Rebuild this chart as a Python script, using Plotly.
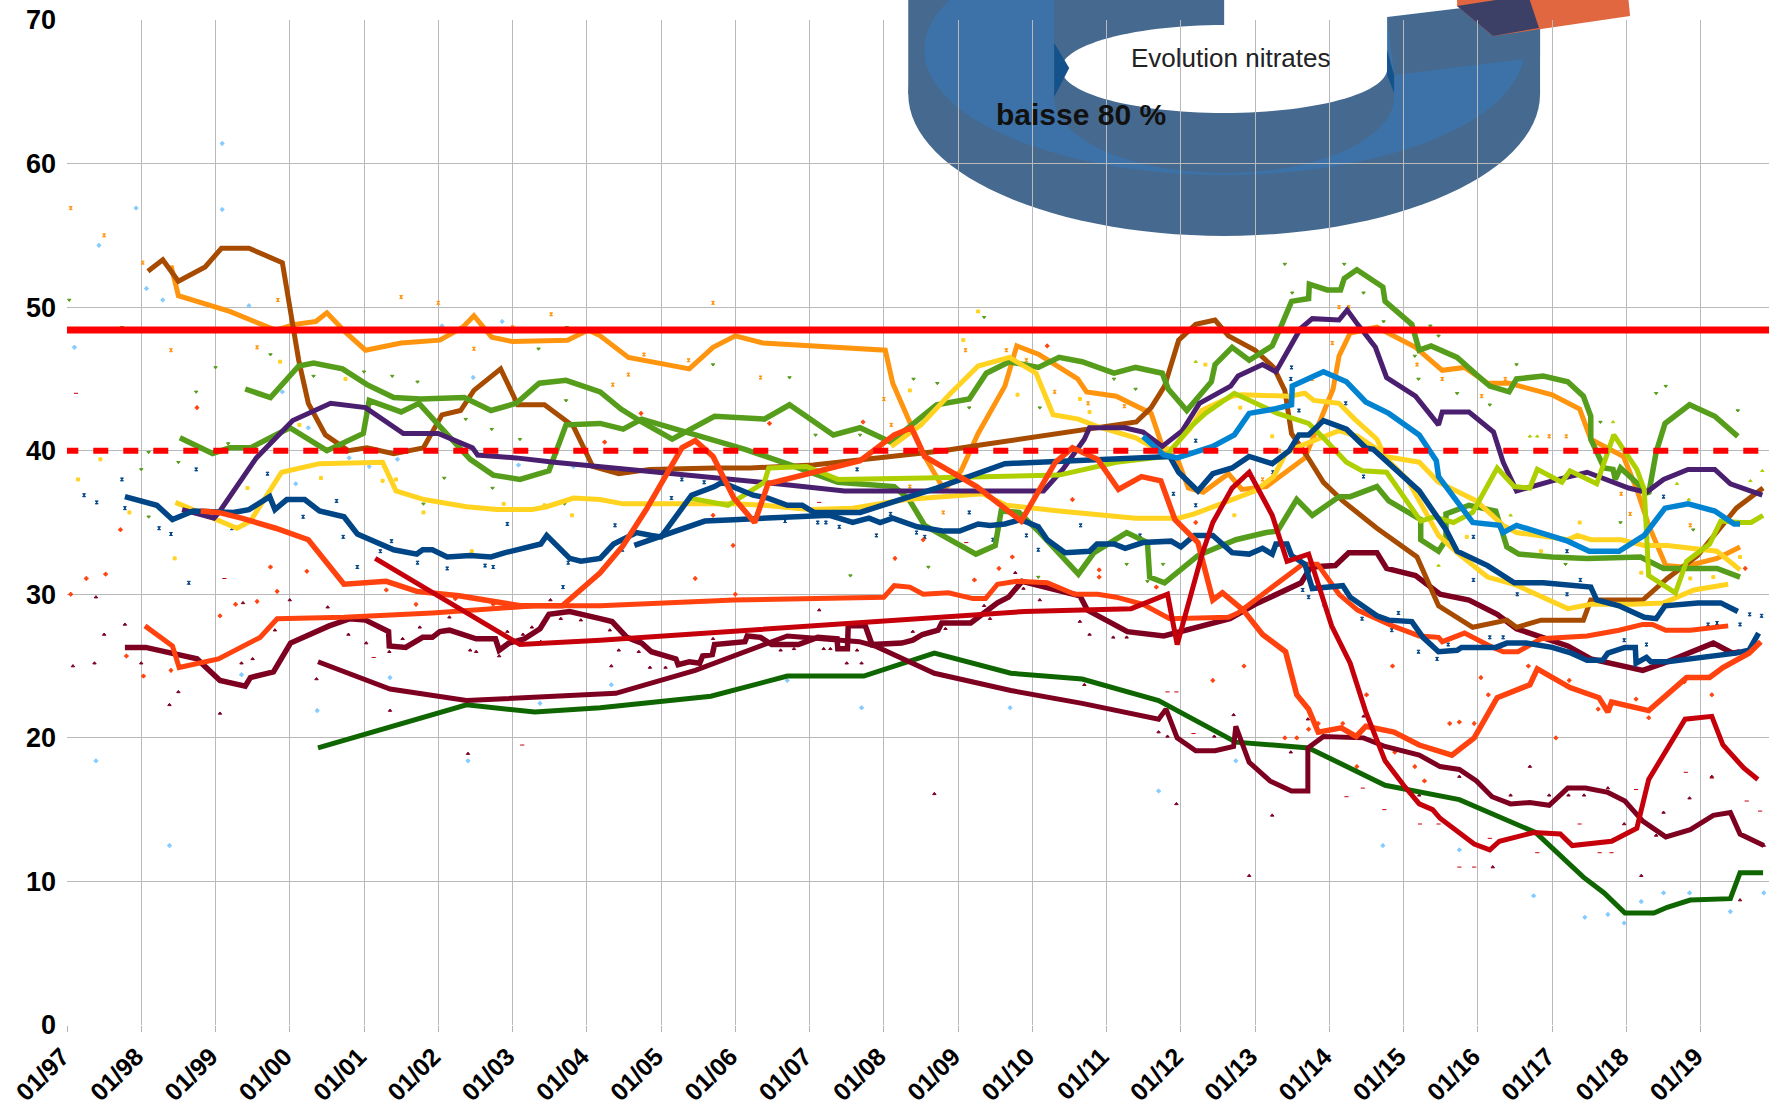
import numpy as np
import plotly.graph_objects as go

# ---------- tick labels ----------
tick_years = list(range(1997, 2020))
tick_labels = ["01/%02d" % (y % 100) for y in tick_years]
y_ticks = [0, 10, 20, 30, 40, 50, 60, 70]

# ---------- thresholds ----------
limit_solid = 48.4
limit_dashed = 40

# ---------- moving-average lines (decimal year, nitrates) ----------
dark_green = [(2000.38,19.3),(2002.38,22.3),(2003.3,21.8),(2004.18,22.1),(2005.67,22.9),(2006.7,24.3),(2007.73,24.3),(2008.68,25.9),(2009.71,24.5),(2010.67,24.1),(2011.7,22.6),(2012.74,19.7),(2013.72,19.3),(2014.75,16.7),(2015.75,15.7),(2016.78,13.4),(2017.42,10.3),(2017.7,9.2),(2017.98,7.8),(2018.37,7.8),(2018.55,8.2),(2018.86,8.7),(2019.4,8.8),(2019.53,10.6),(2019.84,10.6)]

maroon_a = [(1997.78,26.3),(1998.06,26.3),(1998.75,25.5),(1999.06,24),(1999.4,23.6),(1999.47,24.2),(1999.78,24.6),(2000.01,26.6),(2000.53,27.8),(2000.81,28.3),(2001.02,28.2),(2001.33,27.4),(2001.34,26.4),(2001.56,26.3),(2001.79,27),(2001.92,27),(2002.02,27.4),(2002.15,27.5),(2002.51,26.9),(2002.77,26.9),(2002.82,26.1),(2002.95,26.6),(2003.16,26.9),(2003.37,27.6),(2003.49,28.6),(2003.77,28.8),(2004.18,28.3),(2004.34,28.1),(2004.54,27),(2004.74,26.6),(2004.87,26),(2005.2,25.5),(2005.23,25.1),(2005.38,25.3),(2005.52,25.2),(2005.56,25.7),(2005.69,25.8),(2005.72,26.5),(2006.13,26.7),(2006.16,27.1),(2006.34,27),(2006.49,26.5),(2006.85,26.5),(2007.11,27),(2007.37,26.9),(2007.38,26.2),(2007.51,26.2),(2007.52,27.8),(2007.75,27.8),(2007.84,26.5),(2008.24,26.6),(2008.39,26.8),(2008.52,27.2),(2008.73,27.5),(2008.78,28),(2009.17,28),(2009.53,29.4),(2009.68,29.8),(2009.86,30.9),(2010.64,29.9),(2010.74,28.9),(2011.28,27.4),(2011.77,27.1),(2012,27.4),(2012.66,28.3),(2013,29.3),(2013.62,30.8),(2013.75,31.9),(2014.08,32),(2014.26,32.9),(2014.64,32.9),(2014.77,31.8),(2015.16,31.3),(2015.49,30),(2015.88,29.6),(2016.26,28.6),(2016.52,27.6),(2017.21,26.4),(2017.52,25.5),(2018.22,24.7),(2018.5,25.2),(2019.17,26.6),(2019.43,25.9),(2019.53,26)]

maroon_b = [(2000.38,25.3),(2001.35,23.4),(2002.38,22.6),(2004.18,23),(2004.39,23.1),(2005.46,24.7),(2006.24,26.2),(2006.7,27.1),(2007.67,26.7),(2007.88,26.4),(2008.68,24.5),(2009.71,23.3),(2010.67,22.4),(2011.7,21.3),(2011.8,22),(2011.95,20),(2012.2,19.1),(2012.46,19.1),(2012.71,19.4),(2012.74,20.8),(2012.92,18.3),(2013.2,17),(2013.49,16.3),(2013.71,16.3),(2013.71,19.3),(2013.92,20.1),(2014.46,20),(2014.75,19.4),(2015.21,18.8),(2015.49,18),(2015.75,17.8),(2015.98,17),(2016.19,15.9),(2016.44,15.4),(2016.7,15.5),(2016.96,15.3),(2017.21,16.5),(2017.45,16.5),(2017.75,16.2),(2017.98,15.6),(2018.22,14.2),(2018.53,13.1),(2018.86,13.6),(2019.17,14.6),(2019.4,14.8),(2019.53,13.3),(2019.85,12.5)]

orange_red_a = [(1998.8,35.8),(1999.04,35.7),(1999.35,35.3),(1999.81,34.6),(2000.25,33.8),(2000.73,30.7),(2001.3,30.9),(2001.71,30.2),(2002.28,29.9),(2003.1,29.2),(2003.67,29.2),(2004.18,31.5),(2004.49,33.4),(2004.8,35.9),(2005.28,40.2),(2005.46,40.7),(2005.7,39.6),(2005.98,36.7),(2006.26,35),(2006.44,37.7),(2007.68,39.3),(2008.14,41.1),(2008.37,41.6),(2008.55,39.6),(2009.25,37.5),(2009.56,36.2),(2009.85,35.1),(2010.31,39.2),(2010.54,40.2),(2010.88,39.4),(2011.16,37.3),(2011.47,38.2),(2011.73,37.9),(2011.92,35.2),(2012.23,33.6),(2012.43,29.6),(2012.56,30.1),(2012.84,28.9),(2013.1,27.2),(2013.41,26),(2013.56,23),(2013.72,22),(2013.85,20.4),(2014.16,20.7),(2014.36,20.1),(2014.49,20.8),(2014.87,20.4),(2015.21,19.5),(2015.65,18.8),(2015.95,20),(2016.26,22.8),(2016.7,23.7),(2016.8,24.8),(2017.24,23.5),(2017.63,22.8),(2017.75,21.8),(2017.8,22.5),(2018.3,21.9),(2018.66,23.6),(2018.81,24.2),(2019.12,24.2),(2019.3,24.9),(2019.65,25.9),(2019.81,26.7)]

orange_red_b = [(1998.05,27.8),(1998.42,26.4),(1998.51,24.9),(1999.04,25.5),(1999.6,27),(1999.83,28.3),(2000.73,28.4),(2001.92,28.7),(2003.3,29.2),(2004.18,29.2),(2005.98,29.6),(2008,29.8),(2008.14,30.6),(2008.35,30.5),(2008.53,30),(2008.87,30.1),(2009.2,29.7),(2009.37,29.7),(2009.53,30.7),(2009.79,30.9),(2010.2,30.8),(2010.57,30),(2010.88,30),(2011.13,29.8),(2011.49,29.3),(2011.85,28.3),(2012.64,28.4),(2012.77,28.7),(2013.05,29.8),(2013.41,31.2),(2013.64,32.1),(2013.84,32.1),(2014.13,30),(2014.38,28.9),(2014.85,27.8),(2015.21,27.1),(2015.47,27),(2015.52,26.7),(2015.82,27.3),(2016.16,26.4),(2016.34,26),(2016.54,26),(2016.85,26.9),(2017.47,27.1),(2017.9,27.5),(2018.22,27.9),(2018.35,27.9),(2018.53,27.5),(2018.86,27.5),(2019.37,27.8)]

dark_red = [(2001.15,32.5),(2001.92,30.1),(2003.1,26.5),(2004.18,26.8),(2007.47,28),(2009.89,28.8),(2011.33,29),(2011.82,30),(2011.95,26.5),(2012.28,32.7),(2012.43,35),(2012.69,37.4),(2012.92,38.5),(2013.23,35.5),(2013.43,32.3),(2013.72,32.8),(2014.03,27.8),(2014.28,25.2),(2014.49,21.8),(2014.75,18.4),(2015,16.7),(2015.21,15.4),(2015.39,15),(2015.49,14.4),(2015.95,12.6),(2016.16,12.2),(2016.29,12.8),(2016.75,13.4),(2017.11,13.3),(2017.27,12.5),(2017.8,12.8),(2018.14,13.7),(2018.3,17.1),(2018.79,21.3),(2019.15,21.5),(2019.3,19.5),(2019.58,17.9),(2019.77,17.1)]

navy_a = [(1997.78,36.8),(1998.21,36.2),(1998.42,35.2),(1998.7,35.8),(1999.24,35.7),(1999.45,35.9),(1999.73,36.8),(1999.8,35.9),(1999.96,36.6),(2000.2,36.6),(2000.4,35.8),(2000.73,35.4),(2000.91,34.2),(2001.4,33.1),(2001.71,32.8),(2001.79,33.1),(2001.92,33.1),(2002.12,32.6),(2002.43,32.7),(2002.71,32.6),(2002.9,32.9),(2003.38,33.5),(2003.46,34.1),(2003.77,32.5),(2003.92,32.3),(2004.18,32.5),(2004.36,33.5),(2004.67,34.3),(2004.87,34.1),(2005,34),(2005.41,36.9),(2005.72,37.5),(2005.82,37.8),(2006.24,36.9),(2006.44,36.7),(2006.7,36.2),(2006.9,36.2),(2007.06,35.7),(2007.68,35.7),(2008,36.2),(2008.71,37.4),(2009.63,39.1),(2010.15,39.2),(2011.03,39.4),(2011.85,39.6),(2011.97,38.5),(2012.23,37.2),(2012.43,38.4),(2012.69,38.8),(2012.92,39.6),(2013.23,39.1),(2013.46,40),(2013.59,41.1),(2013.72,41.1),(2013.92,42.1),(2014.23,41.5),(2014.49,40.2),(2014.59,40.1),(2015.21,37.2),(2015.57,34.5),(2015.72,33),(2016.13,32),(2016.49,30.8),(2016.88,30.8),(2017.21,30.6),(2017.52,30.5),(2017.6,29.6),(2017.9,29.2),(2018.24,28.4),(2018.4,28.3),(2018.52,29.2),(2018.96,29.4),(2019.27,29.4),(2019.5,28.8)]

navy_b = [(2004.64,33.4),(2005.59,35.1),(2005.98,35.2),(2006.75,35.4),(2007.27,35.5),(2007.58,35),(2007.8,35.3),(2007.95,35),(2008.12,35.3),(2008.45,34.7),(2008.81,34.4),(2009.02,34.4),(2009.27,34.9),(2009.43,34.8),(2009.63,34.9),(2009.84,35.2),(2010.08,34.7),(2010.2,33.8),(2010.44,32.9),(2010.77,33),(2010.87,33.5),(2011.1,33.5),(2011.25,33.2),(2011.49,33.6),(2011.87,33.7),(2012,33.3),(2012.18,34.1),(2012.43,34.1),(2012.69,32.9),(2012.92,32.8),(2013.1,33.2),(2013.23,32.8),(2013.28,33.5),(2013.43,33.5),(2013.49,32.7),(2013.67,32.1),(2013.77,30.4),(2014.18,30.6),(2014.28,29.8),(2014.64,28.5),(2014.8,28.2),(2015.11,28.1),(2015.26,27),(2015.47,26),(2015.72,26.1),(2015.78,26.3),(2016.24,26.3),(2016.39,26.6),(2016.65,26.6),(2017,26.3),(2017.26,25.9),(2017.47,25.4),(2017.68,25.4),(2017.75,25.9),(2017.98,26.3),(2018.12,26.3),(2018.13,25.2),(2018.27,25.6),(2018.33,25.3),(2018.55,25.3),(2019.06,25.6),(2019.47,25.9),(2019.65,26.1),(2019.78,27.3)]

purple = [(1998.55,35.9),(1998.98,35.3),(1999.06,35.8),(1999.55,39.5),(2000.04,42.1),(2000.55,43.3),(2001.02,43),(2001.53,41.2),(2002,41.2),(2002.46,40.2),(2002.53,39.7),(2003.05,39.5),(2003.56,39.2),(2004.18,38.9),(2004.69,38.6),(2005.72,38.1),(2006.75,37.6),(2007.47,37.2),(2010.15,37.2),(2010.41,38.7),(2010.7,40.8),(2010.77,41.6),(2011.24,41.6),(2011.49,41.3),(2011.75,40.3),(2012.02,41.4),(2012.25,43.3),(2012.67,44.5),(2012.77,45.2),(2013.1,46),(2013.28,45.5),(2013.61,48.5),(2013.77,49.2),(2014.13,49.1),(2014.24,49.8),(2014.38,48.8),(2014.62,47.2),(2014.77,45.1),(2015.16,43.8),(2015.47,41.8),(2015.52,42.7),(2015.88,42.7),(2016.21,41.3),(2016.34,39.2),(2016.52,37.2),(2017,37.9),(2017.47,38.5),(2018.03,37.4),(2018.27,37.1),(2018.5,38),(2018.83,38.7),(2019.19,38.7),(2019.4,37.7),(2019.83,36.9)]

yellow_a = [(1998.46,36.4),(1999.29,34.6),(1999.47,35.1),(1999.89,38.5),(2000.4,39.1),(2001.25,39.2),(2001.43,37.2),(2001.81,36.6),(2002.38,36.1),(2002.79,35.9),(2003.26,35.9),(2003.46,36.1),(2003.82,36.7),(2004.18,36.6),(2004.49,36.3),(2005.98,36.3),(2006.39,36.2),(2007,35.9),(2007.58,36),(2008.3,36.6),(2009.33,37),(2009.65,36.2),(2010.36,35.8),(2011.39,35.3),(2011.97,35.3),(2012.18,35.6),(2012.54,36.3),(2013,37.2),(2013.25,38.2),(2013.41,39.8),(2013.59,40.3),(2014.13,41.4),(2014.38,41),(2014.64,40.1),(2015.05,38),(2015.47,34.1),(2015.72,32.9),(2016.13,31.2),(2016.49,30.7),(2017.21,29),(2017.52,29.3),(2018.08,29.3),(2018.5,29.4),(2018.91,30.3),(2019.37,30.7)]

yellow_b = [(2008.1,40.3),(2008.5,41.8),(2008.9,44),(2009.27,45.9),(2009.69,46.5),(2010.05,45.4),(2010.28,42.5),(2010.62,42.2),(2010.87,41.7),(2011.39,40.9),(2011.6,40.3),(2011.87,40.1),(2012.12,41.5),(2012.28,42.8),(2012.69,43.8),(2012.82,43.9),(2013.46,43.8),(2013.67,44),(2013.79,43.5),(2014.13,43.3),(2014.34,42.2),(2014.64,40.8),(2014.75,39.6),(2015.21,39.2),(2015.47,37.8),(2015.98,36.5),(2016.34,34.8),(2016.52,34.3),(2017.21,33.8),(2017.34,34.1),(2017.52,33.8),(2017.93,33.8),(2018.24,33.4),(2018.55,33.4),(2019.22,33),(2019.53,31.7)]

light_green = [(2005.39,36.7),(2005.9,36.2),(2006.39,37.8),(2006.45,38.8),(2006.96,38.9),(2007.38,38),(2008.55,38.1),(2009.58,38.2),(2010.36,38.3),(2011.13,39.2),(2011.8,39.6),(2012.12,41.6),(2012.33,42.6),(2012.72,44),(2013.3,42.6),(2013.72,41.9),(2013.9,41),(2014.23,39.2),(2014.44,38.6),(2014.77,38.5),(2015.23,35.1),(2015.41,35.4),(2015.67,35),(2015.93,35.7),(2016.26,38.8),(2016.49,37.5),(2016.7,37.4),(2016.8,38.7),(2017.13,37.8),(2017.24,38.6),(2017.6,37.7),(2017.83,41.1),(2018.14,38.7),(2018.24,37.3),(2018.3,31.3),(2018.66,30.1),(2018.81,32.3),(2019.12,33.5),(2019.27,35.1),(2019.53,35),(2019.68,35),(2019.84,35.5)]

green_a = [(1999.4,44.3),(1999.74,43.7),(2000.12,45.9),(2000.32,46.1),(2000.71,45.7),(2001.04,44.6),(2001.4,43.7),(2001.76,43.6),(2002.35,43.7),(2002.71,42.8),(2003.05,43.3),(2003.36,44.7),(2003.72,44.9),(2004.18,44.1),(2004.46,42.9),(2004.74,42),(2005.15,40.8),(2005.72,42.4),(2006.39,42.2),(2006.73,43.2),(2007.32,41.1),(2007.68,41.6),(2008.09,40.6),(2008.71,43.2),(2009.15,43.6),(2009.38,45.4),(2009.69,46.2),(2010.08,45.8),(2010.36,46.5),(2010.67,46.2),(2011.1,45.4),(2011.39,45.8),(2011.75,45.4),(2011.83,44.3),(2012.08,42.8),(2012.41,44.8),(2012.46,46),(2012.69,47.2),(2012.92,46.3),(2013.23,47.3),(2013.36,48.8),(2013.49,50.4),(2013.72,50.6),(2013.73,51.6),(2013.97,51.2),(2014.15,51.2),(2014.2,52),(2014.37,52.6),(2014.72,51.4),(2014.75,50.4),(2015.11,48.8),(2015.21,47),(2015.37,47.3),(2015.72,46.5),(2015.98,45.3),(2016.16,44.5),(2016.42,44.1),(2016.52,45),(2016.88,45.2),(2017.21,44.8),(2017.42,43.8),(2017.52,42.4),(2017.52,40.8),(2017.65,39.2),(2017.7,38.8),(2017.82,38.7),(2017.85,38),(2017.92,38.8),(2018.14,37.8),(2018.3,37),(2018.4,39.9),(2018.52,41.9),(2018.85,43.2),(2019.19,42.4),(2019.5,41)]

green_b = [(1998.52,40.9),(1998.96,39.8),(1999.19,40.2),(1999.47,40.2),(2000,41.6),(2000.5,40),(2000.99,41.2),(2001.07,43.5),(2001.5,42.7),(2001.74,43.3),(2002.02,41.7),(2002.43,39.4),(2002.74,38.3),(2003.1,38),(2003.49,38.6),(2003.72,41.8),(2004.18,41.9),(2004.49,41.5),(2004.74,42.2),(2005.31,41.3),(2006.13,40.1),(2006.75,39),(2007.38,37.8),(2008.14,37.5),(2008.34,36.6),(2008.55,34.8),(2008.96,33.6),(2009.24,32.8),(2009.5,33.4),(2009.58,35.8),(2009.82,35.7),(2010.1,34.3),(2010.62,31.4),(2010.83,32.9),(2011.27,34.3),(2011.55,33.6),(2011.58,31.2),(2011.78,30.8),(2012.23,32.7),(2012.74,33.8),(2013.15,34.3),(2013.3,34.4),(2013.56,36.6),(2013.77,35.5),(2014.13,36.8),(2014.28,36.8),(2014.64,37.5),(2014.8,36.5),(2015.23,35.2),(2015.23,33.8),(2015.47,33),(2015.57,33.8),(2015.57,35.6),(2015.88,36.2),(2016.24,35.8),(2016.39,33.3),(2016.55,32.8),(2017,32.6),(2017.47,32.5),(2018.19,32.6),(2018.5,31.8),(2019.22,31.8),(2019.53,31.2)]

brown = [(1998.09,52.5),(1998.29,53.3),(1998.5,51.8),(1998.86,52.8),(1999.08,54.1),(1999.45,54.1),(1999.9,53.1),(2000.04,48.9),(2000.12,46.3),(2000.25,43.3),(2000.48,41.1),(2000.79,40),(2001.04,40.2),(2001.4,39.8),(2001.8,40.2),(2002.05,42.5),(2002.3,42.8),(2002.48,44.2),(2002.84,45.7),(2003.07,43.2),(2003.43,43.2),(2003.82,41.7),(2004.08,38.9),(2004.43,38.4),(2004.85,38.7),(2005.72,38.8),(2006.2,38.8),(2007.05,39),(2008,39.5),(2008.8,40),(2009.3,40.4),(2010.77,41.5),(2011.4,42),(2011.6,43),(2011.78,44.5),(2011.97,47.7),(2012.2,48.8),(2012.46,49.1),(2012.64,48),(2013,47),(2013.25,45.8),(2013.4,44.2),(2013.49,41.2),(2013.69,39.7),(2013.92,37.8),(2014.18,36.5),(2014.64,34.6),(2015.18,32.6),(2015.47,29.2),(2015.93,27.7),(2016.39,28.2),(2016.52,27.7),(2016.85,28.2),(2017.42,28.2),(2017.52,29.6),(2018.22,29.6),(2018.55,31.1),(2018.96,32.7),(2019.48,36),(2019.84,37.4)]

orange = [(1998.4,52.9),(1998.5,50.8),(1999.19,49.7),(1999.81,48.4),(2000.07,48.8),(2000.35,49),(2000.5,49.6),(2000.76,48.2),(2001.02,47),(2001.5,47.5),(2002.02,47.7),(2002.33,48.6),(2002.48,49.4),(2002.72,47.9),(2003,47.6),(2003.74,47.7),(2004.02,48.4),(2004.18,48),(2004.56,46.5),(2005.38,45.7),(2005.7,47.2),(2006,48),(2006.37,47.5),(2008.02,47),(2008.12,44.7),(2008.55,39.6),(2008.73,38),(2008.81,37.3),(2009.04,38.6),(2009.27,41.2),(2009.63,44.5),(2009.79,47.3),(2010.09,46.7),(2010.61,45),(2010.73,44.1),(2011.13,43.8),(2011.6,42.6),(2011.75,40.3),(2011.97,39.2),(2012.1,37.4),(2012.3,37.1),(2012.64,38.4),(2012.82,37.3),(2013.15,37.5),(2013.67,39.5),(2014.05,44.3),(2014.13,46.6),(2014.28,48.2),(2014.64,48.6),(2015.16,47.2),(2015.52,45.6),(2015.82,45.8),(2016.13,44.7),(2016.42,44.7),(2017,43.9),(2017.37,42.9),(2017.52,40.8),(2017.96,39.6),(2018.14,37.3),(2018.3,34.8),(2018.53,32),(2018.76,31.9),(2019.22,32.5),(2019.53,33.3)]

light_blue = [(2011.49,41),(2011.77,39.7),(2011.95,39.5),(2012.43,40.3),(2012.72,41.1),(2012.92,42.6),(2013.25,42.9),(2013.49,43.2),(2013.5,44.5),(2013.92,45.5),(2014.23,44.8),(2014.49,43.4),(2014.8,42.6),(2015.21,41.1),(2015.44,39.3),(2015.47,38.2),(2015.93,35),(2016.29,34.8),(2016.34,34.3),(2016.52,34.8),(2017.21,33.7),(2017.5,33),(2017.9,33),(2018.24,34.1),(2018.52,36),(2018.83,36.3),(2019.19,35.8),(2019.45,34.9),(2019.53,34.9)]

# ---------- individual measurements (small dots) ----------
dots_sky = [(1997.93,56.9),(1997.43,54.3),(1999.09,56.8),(1998.07,51.3),(1998.29,50.5),(1997.1,47.2),(1999.45,50.1),(2002.05,48.7),(2002.86,49),(2002.47,45.1),(1999.9,44.1),(2000.25,41.6),(2000.8,39.5),(2001.07,38.9),(2001.45,39.4),(2003.08,39),(2003.82,38.9),(2000.08,37.7),(1997.39,18.4),(1998.38,12.5),(1999.35,24.4),(2000.37,21.9),(2001.35,24.2),(2002.4,18.4),(2003.37,22.4),(2004.33,23.7),(2006.7,24),(2007.7,22.1),(2009.7,22.1),(2011.7,16.3),(2012.74,18.4),(2014.72,12.5),(2015.75,12.2),(2016.75,9),(2017.44,7.5),(2017.75,7.7),(2017.97,7.1),(2018.2,8.6),(2018.5,9.2),(2018.85,9.2),(2019.4,7.9),(2019.85,9.2),(1999.09,61.4)]
dots_orange = [(1997.05,56.9),(1997.5,55),(1998.02,53.1),(1998.4,47),(1999.56,47.2),(1999.84,50.5),(2001.5,50.7),(2002,50.3),(2003.52,49.5),(2003,48.6),(2002.48,47.1),(2005.7,50.3),(2004.77,46.7),(2004.56,45.3),(2004.35,44.6),(2005.37,46.3),(2006.34,45.1),(2008,43.6),(2008.1,41.8),(2008.35,37.5),(2008.8,35.7),(2009.1,47),(2009.65,47),(2009.92,46.3),(2010.3,44.1),(2010.75,43.3),(2011.24,43.1),(2014.13,50),(2014.26,50),(2014.04,47.5),(2013.77,45),(2015.18,46),(2015.52,45),(2016.05,43.8),(2016.37,45),(2016.96,41),(2017.19,41),(2017.93,37),(2018.05,35.6),(2018.86,34.8),(2013.1,38),(2013.33,40)]
dots_yellow = [(1999.87,46.2),(2000.75,45),(2000.13,41.8),(2000.42,38.1),(2001.25,37.9),(2001.43,38),(1999.43,37.4),(1997.15,38),(1997.45,39.4),(1997.84,35.7),(2001.8,35.7),(1998.45,32.5),(2002.45,33),(2002.88,36.3),(2003.43,36.2),(2003.8,35.5),(2009.27,49.7),(2009.07,47.7),(2008.35,44.2),(2009.8,43.9),(2010.64,43.6),(2010.77,42.7),(2012.33,46),(2012.8,43),(2013.23,41),(2012.72,35.5),(2016.85,33),(2017.37,35),(2015.85,34),(2019.53,32.6),(2019.17,31.2),(2018.86,31.1),(2018.2,31.5)]
dots_green = [(1997.03,50.5),(1997.74,48.6),(1999,45.8),(1998.74,44.1),(1999.74,46.7),(1998,38.7),(1998.1,39.9),(1998.5,39.2),(1999.17,40.5),(1998.1,35.4),(2001,45.5),(2001.38,45.2),(2001.72,44.8),(2000.32,45.2),(2003.73,48.6),(2003.35,47.1),(2003.72,43.5),(2002.37,42.2),(2002.72,41.5),(2003.1,40.8),(2002.08,38.1),(2002.73,37.4),(2001.8,36.3),(2003.7,36.3),(2005.7,46),(2006.73,45.1),(2009.35,49.3),(2008.4,45),(2008.72,44.7),(2009.15,43),(2010.1,43),(2011.39,44.3),(2011.1,45),(2007.08,41.1),(2007.68,41.1),(2007.55,31.3),(2008.6,31.9),(2010.08,31.2),(2011.27,32.1),(2011.55,30.9),(2011.76,32.1),(2013.4,53),(2014.2,53),(2013.5,51),(2014.46,51),(2015.36,48.7),(2015.47,48),(2015.15,46.6),(2015.2,45),(2014.73,49),(2015.72,44),(2016.16,43.2),(2016.52,46),(2018.53,44.5),(2018.4,44),(2019.5,42.8),(2017.65,42),(2017.92,35),(2017.18,32.1),(2018.28,33.9),(2018.9,34.5)]
dots_navy = [(1997.23,36.9),(1997.4,36.4),(1997.74,38),(1997.78,36),(1998.74,38.7),(1998.24,34.6),(1998.4,34.2),(1998.64,30.8),(1999.22,34.6),(1999.7,38.4),(2000.63,36.5),(2000.18,35.4),(2000.72,34),(2000.91,31.9),(2001.37,33.7),(2001.22,33),(2001.72,32.2),(2002.12,31.8),(2002.63,32),(2002.74,31.9),(2002.93,34.9),(2003.68,30.5),(2003.75,32.2),(2005.28,38),(2005.14,36.7),(2005.58,37.8),(2004.38,34.8),(2004.48,33.1),(2007.64,38.7),(2006.67,35.1),(2007.11,35),(2007.22,35),(2007.4,34.7),(2007.9,34.1),(2008.09,35.6),(2008.44,34.3),(2008.55,34),(2009.15,35.7),(2009.47,33.8),(2009.92,34.1),(2010.65,34.8),(2010.08,33.1),(2011.45,34.1),(2013.49,45.8),(2013.48,45),(2013.59,42.8),(2012.2,40.7),(2011.9,37),(2012.2,36.2),(2013.24,38.5),(2014.46,38.2),(2014.22,43.3),(2015.94,34),(2017.2,33),(2015.94,31),(2017.38,31),(2016.53,30),(2017.2,30),(2018.5,36.8),(2019.53,27.9),(2019.66,28.6),(2019.82,28.5),(2019.22,28),(2019.1,27.9),(2018.27,26.5),(2017.97,26.8),(2013.72,29.8),(2013.64,30.3),(2014.44,28.3),(2014.93,28.7),(2014.84,27.5),(2016.16,27),(2016.34,27),(2015.2,26),(2015.45,25.5),(2015.6,26.5)]
dots_maroon = [(1997.08,25),(1997.37,25.2),(1997.5,27.2),(1997.78,27.9),(1997.39,29.8),(1998,25.2),(1998.5,23.2),(1998.38,22.3),(1999.06,21.7),(1999.35,25.2),(1999.5,25.5),(1999.37,29.4),(2000,29.6),(2000.51,29.1),(1999.8,27.5),(2000.79,27.2),(2001.03,26.6),(2001.34,26),(2001.52,26.9),(2001.75,27.7),(2002.15,28.4),(2002.43,26.1),(2002.51,26),(2002.82,25.7),(2002.93,27.4),(2003.14,27.2),(2003.26,27.7),(2003.38,26.7),(2003.51,29.6),(2003.65,28.3),(2003.92,28.2),(2000.36,24.1),(2001.35,21.9),(2002.4,18.9),(2004.31,27.5),(2004.43,26.1),(2004.7,26),(2004.85,24.9),(2005.06,24.9),(2004.33,25),(2005.7,26.9),(2007.13,28.9),(2006.61,26.1),(2006.79,26.2),(2007.19,26.2),(2007.28,26.2),(2007.5,25.2),(2007.7,25.2),(2007.64,26.1),(2008.39,27.4),(2008.83,27.6),(2009.35,29.2),(2009.43,28.3),(2009.88,30.4),(2009.77,31.5),(2010.1,29.6),(2010.64,28.1),(2010.77,27.2),(2011.09,27),(2011.27,27),(2008.68,16.1),(2010.7,23.7),(2011.7,20.4),(2011.82,20.1),(2011.94,15.4),(2012.71,21.6),(2012.45,20.1),(2013.23,14.6),(2012.92,10.4),(2013.48,19),(2013.71,21.3),(2014.46,21.5),(2015.21,16),(2015.75,17.3),(2016.44,16),(2016.7,18),(2016.96,16),(2017.22,16),(2017.43,16),(2017.75,16.5),(2017.97,14),(2018.2,10.4),(2018.5,14.8),(2018.85,15.8),(2019.15,17.3),(2019.85,12.5),(2019.53,8.7),(2016.2,11),(2018.4,13.2)]
dots_orange_red = [(1997.05,30),(1997.26,31.1),(1997.52,31.4),(1997.72,34.5),(1998.75,43),(1999.83,30.2),(1999.56,29.5),(1999.06,28.5),(1999.27,29.3),(2000.23,31.6),(1999.74,31.9),(2001.3,30.3),(2001.7,29.3),(2002.23,29.7),(2002.74,29.3),(1997.8,25.7),(1998.03,24.3),(1998.4,24.7),(2004.24,40.6),(2004.73,42.6),(2006.46,41.9),(2007.72,42),(2005.97,33.4),(2005.7,35.5),(2005.46,31.1),(2006,30),(2008.15,32.5),(2008.53,33.8),(2009.73,32.6),(2009.55,31.8),(2009.22,31),(2010.9,31.7),(2010.9,31.2),(2010.2,47.3),(2010.54,36.6),(2011.67,30.5),(2012.2,35),(2012.43,24),(2012.85,25),(2013.72,20.6),(2013.85,21),(2014.18,21),(2013.4,20),(2013.56,20),(2014.5,23),(2014.88,19),(2015.15,18),(2015.28,17),(2014.37,18),(2015.62,21),(2015.75,21.1),(2015.95,21),(2016.14,23),(2014.85,25),(2016.04,24.2),(2017.05,20),(2016.68,25),(2017.23,24),(2017.62,22),(2018.13,22.7),(2018.3,21.4),(2018.78,23.9),(2019.15,23),(2019.6,31.8)]
dots_red = [(1997.12,44),(1999.12,31.1),(2001.13,25.6),(2003.13,19.5),(2009.11,33.6),(2007.13,36.4),(2011.82,23.2),(2011.94,23.2),(2012.17,20.3),(2012.92,29.2),(2013.93,29.2),(2014.45,16.5),(2014.23,15.9),(2014.74,15),(2015.22,14),(2015.47,14),(2015.75,11),(2015.95,11),(2016.16,13),(2016.8,12),(2017.37,14),(2017.64,12),(2017.8,12),(2018.13,16.4),(2018.8,17.6),(2019.15,17.2),(2019.62,15.6),(2019.8,14.9)]
dots_light_green = [(2012.2,46.2),(2015.47,32),(2016.44,35.5),(2018.68,37.7),(2018.84,36.6),(2019.67,37.9),(2019.83,38.6),(2016.8,41),(2016.7,41),(2017.82,42),(2015.71,40)]

# ---------- colours ----------
C_GREEN, C_LGREEN, C_YELLOW, C_ORANGE = "#579d1c", "#aecf00", "#ffd320", "#ff950e"
C_ORED, C_RED, C_MAROON, C_NAVY = "#ff420e", "#c5000b", "#7e0021", "#004586"
C_BLUE, C_SKY, C_BROWN, C_PURPLE, C_DGREEN = "#0084d1", "#83caff", "#a64b00", "#4b1f6f", "#0f6600"

W, H = 1769, 1106
ML, MT, MR, MB = 66.5, 20, 0, 80.5
YEAR_MAX = 1997 + (W - ML) / 74.28

fig = go.Figure()

for pts, col, sym in [
    (dots_sky, C_SKY, "cross"), (dots_orange, C_ORANGE, "hourglass"),
    (dots_yellow, C_YELLOW, "square"), (dots_green, C_GREEN, "triangle-down"),
    (dots_navy, C_NAVY, "hourglass"), (dots_maroon, C_MAROON, "triangle-up"),
    (dots_orange_red, C_ORED, "cross"), (dots_red, C_RED, "line-ew"),
    (dots_light_green, C_LGREEN, "triangle-up"),
]:
    fig.add_trace(go.Scatter(
        x=[p[0] for p in pts], y=[p[1] for p in pts], mode="markers",
        marker=dict(color=col, size=3, symbol=sym,
                    line=dict(color=col, width=1)),
        hoverinfo="skip"))

for pts, col, w in [
    (dark_green, C_DGREEN, 5), (maroon_b, C_MAROON, 5), (maroon_a, C_MAROON, 5.5),
    (orange_red_b, C_ORED, 5), (orange, C_ORANGE, 5), (brown, C_BROWN, 5),
    (green_b, C_GREEN, 5.5), (green_a, C_GREEN, 5.5), (yellow_a, C_YELLOW, 5),
    (yellow_b, C_YELLOW, 5), (purple, C_PURPLE, 5), (light_green, C_LGREEN, 5),
    (navy_a, C_NAVY, 5.5), (light_blue, C_BLUE, 5.5), (navy_b, C_NAVY, 5.5),
    (orange_red_a, C_ORED, 5.5), (dark_red, C_RED, 5),
]:
    fig.add_trace(go.Scatter(
        x=[p[0] for p in pts], y=[p[1] for p in pts], mode="lines",
        line=dict(color=col, width=w), hoverinfo="skip"))

fig.add_trace(go.Scatter(x=[1996.95, YEAR_MAX], y=[limit_solid, limit_solid], mode="lines",
                         line=dict(color="#ff0000", width=7), cliponaxis=False, hoverinfo="skip"))
fig.add_trace(go.Scatter(x=[1996.95, YEAR_MAX], y=[limit_dashed, limit_dashed], mode="lines",
                         line=dict(color="#ff0000", width=6, dash="15px,15px"),
                         cliponaxis=False, hoverinfo="skip"))

# ---------- the pasted 3D ring in the top part ----------
PW, PH = W - ML - MR, H - MT - MB


def fx(px):
    return (px - ML) / PW


def fy(py):
    return 1 - (py - MT) / PH


def path(points):
    return "M " + " L ".join(f"{fx(a):.5f},{fy(b):.5f}" for a, b in points) + " Z"


def ellipse(cx, cy, a, b):
    t = np.linspace(0, 2 * np.pi, 120, endpoint=False)
    return list(zip(cx + a * np.cos(t), cy + b * np.sin(t)))


def solid(points, color, layer="between"):
    return dict(type="path", path=path(points), xref="paper", yref="paper",
                fillcolor=color, line=dict(width=0), layer=layer)


CX = 1224
TOP_LIGHT, SIDE_DARK = "#3c72a8", "#466a8f"
shapes = [
    solid([(888, -5), (1659, -5), (1659, 262), (888, 262)], "#ffffff"),
    solid(ellipse(CX, 94, 316, 142), SIDE_DARK),
    solid([(908, -5), (1540, -5), (1540, 94), (908, 94)], SIDE_DARK),
    solid(ellipse(CX, 50, 300, 125), TOP_LIGHT),
    solid(ellipse(CX, 97, 170, 76), SIDE_DARK),
    solid([(1054, -5), (1224, -5), (1224, 97), (1054, 97)], SIDE_DARK),
    solid([(1387, 17), (1528, 0), (1540, 28), (1540, 57), (1394, 75)], SIDE_DARK),
    solid(ellipse(CX, 69, 163, 44), "#ffffff"),
    solid([(1224, -5), (1224, 69), (1387, 69), (1387, 17), (1528, 0), (1545, -2), (1545, -5)], "#ffffff"),
    solid([(1054, 43), (1069, 68), (1054, 97)], "#14528c"),
    solid([(1387, 50), (1394, 75), (1394, 93), (1387, 75)], "#14528c"),
    solid([(1457, -5), (1457, 6), (1493, 36), (1630, 16), (1628, -5)], "#e0673f"),
    solid([(1457, 6), (1528, -5), (1539, 28), (1493, 36)], "#3c3f66"),
]

fig.update_layout(
    width=W, height=H, autosize=False,
    margin=dict(l=ML, r=MR, t=MT, b=MB),
    paper_bgcolor="#ffffff", plot_bgcolor="#ffffff",
    showlegend=False, shapes=shapes,
    font=dict(family="Liberation Sans", color="#000000"),
    annotations=[
        dict(text="Evolution nitrates", xref="paper", yref="paper", x=fx(1230), y=fy(58),
             xanchor="center", yanchor="middle",
             showarrow=False, font=dict(size=26, color="#222222")),
        dict(text="<b>baisse 80 %</b>", xref="paper", yref="paper", x=fx(1081), y=fy(115),
             xanchor="center", yanchor="middle",
             showarrow=False, font=dict(size=30, color="#111111")),
    ],
    xaxis=dict(range=[1997, YEAR_MAX], tickmode="array", tickvals=tick_years, ticktext=tick_labels,
               tickangle=-45, ticks="outside", ticklen=6, tickcolor="#b3b3b3",
               ticklabelshift=-5,
               showgrid=True, gridcolor="#b9b9b9", gridwidth=1.3, zeroline=False,
               showline=False,
               tickfont=dict(family="Liberation Sans", size=25, weight="bold")),
    yaxis=dict(range=[0, 70], tickmode="array", tickvals=y_ticks,
               ticks="", ticklabelstandoff=10, showgrid=True, gridcolor="#b9b9b9",
               gridwidth=1.3, zeroline=False, showline=False,
               tickfont=dict(family="Liberation Sans", size=27, weight="bold")),
)

# the page's default body margin would push the figure off its intended place
fig.write_html("out.html", config={"displayModeBar": False},
               post_script="document.body.style.margin='0';")
